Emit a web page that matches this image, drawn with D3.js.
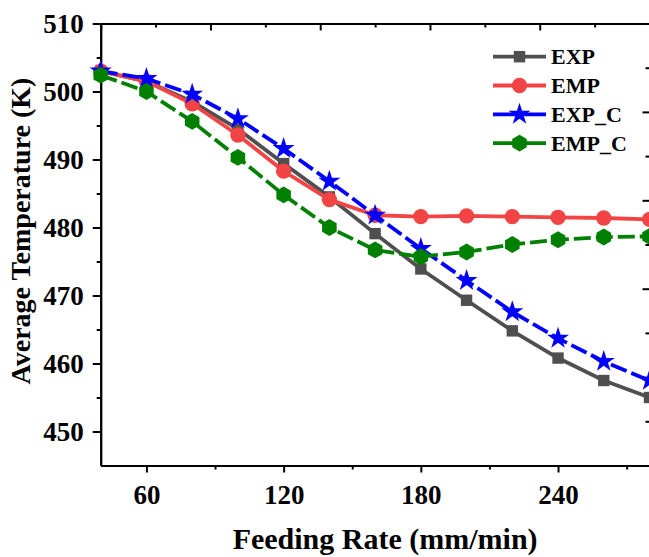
<!DOCTYPE html>
<html>
<head>
<meta charset="utf-8">
<script src="https://cdn.jsdelivr.net/npm/d3@7"></script>
<style>
  html, body { margin: 0; padding: 0; background: #fff; }
  svg { display: block; }
  text { font-family: "Liberation Serif", "Times New Roman", serif; font-weight: bold; fill: #000; }
</style>
</head>
<body>
<svg id="chart" width="649" height="557"></svg>
<script>
// Feeding rate (mm/min)
const feedRates = [40, 60, 80, 100, 120, 140, 160, 180, 200, 220, 240, 260, 280];

// Average temperature (K) for each case
const expValues  = [503.0, 501.5, 498.5, 494.5, 489.4, 484.5, 479.1, 473.9, 469.3, 464.8, 460.8, 457.5, 455.0];
const empValues  = [503.0, 501.5, 498.2, 493.6, 488.3, 484.1, 481.8, 481.6, 481.7, 481.6, 481.5, 481.4, 481.2];
const expCValues = [503.0, 501.9, 499.6, 496.0, 491.6, 486.8, 481.8, 476.9, 472.2, 467.6, 463.7, 460.3, 457.5];
const empCValues = [502.4, 500.0, 495.6, 490.3, 484.8, 480.0, 476.7, 475.7, 476.4, 477.5, 478.2, 478.6, 478.7];

const seriesNames = ["EXP", "EMP", "EXP_C", "EMP_C"];

const xMajorTicks = [60, 120, 180, 240];
const xMinorTicks = [90, 150, 210, 270];
const yMajorTicks = [450, 460, 470, 480, 490, 500, 510];
const yMinorTicks = [455, 465, 475, 485, 495, 505];

const svg = d3.select("#chart");

const plotLeft = 100.7, plotRight = 649.5, plotTop = 23.5, plotBottom = 465.5;

const x = d3.scaleLinear().domain([40, 280]).range([plotLeft, plotRight]);
const y = d3.scaleLinear().domain([445, 510]).range([plotBottom, plotTop]);

const series = [
  { name: seriesNames[0], values: expValues,  color: "#4f4f4f", dash: null,   symbol: d3.symbolSquare,  size: 130 },
  { name: seriesNames[1], values: empValues,  color: "#f24444", dash: null,   symbol: d3.symbolCircle,  size: 185 },
  { name: seriesNames[2], values: expCValues, color: "#0000ff", dash: "17,5", symbol: d3.symbolStar,    size: 150 },
  { name: seriesNames[3], values: empCValues, color: "#008000", dash: "17,5", symbol: "hexagon",        size: 8.4 }
];

function hexPath(r) {
  const pts = d3.range(6).map(i => {
    const a = Math.PI / 2 + i * Math.PI / 3;
    return [r * Math.cos(a), -r * Math.sin(a)];
  });
  return "M" + pts.map(p => p.join(",")).join("L") + "Z";
}

function markerPath(s) {
  if (s.symbol === "hexagon") return hexPath(s.size);
  return d3.symbol().type(s.symbol).size(s.size)();
}

// Axes
const axisStyle = g => {
  g.selectAll("path").attr("stroke", "#000").attr("stroke-width", 2);
  g.selectAll("line").attr("stroke", "#000").attr("stroke-width", 2);
  g.selectAll("text").style("font-size", "27px");
};

// bottom: major + minor
svg.append("g").attr("transform", `translate(0,${plotBottom})`)
  .call(d3.axisBottom(x).tickValues(xMajorTicks).tickFormat(d3.format("d")).tickSize(7).tickSizeOuter(0).tickPadding(12))
  .call(axisStyle);
svg.append("g").attr("transform", `translate(0,${plotBottom})`)
  .call(d3.axisBottom(x).tickValues(xMinorTicks).tickFormat("").tickSize(4).tickSizeOuter(0))
  .call(axisStyle);

// left: major + minor
svg.append("g").attr("transform", `translate(${plotLeft},0)`)
  .call(d3.axisLeft(y).tickValues(yMajorTicks).tickFormat(d3.format("d")).tickSize(8).tickSizeOuter(0).tickPadding(9))
  .call(axisStyle);
svg.append("g").attr("transform", `translate(${plotLeft},0)`)
  .call(d3.axisLeft(y).tickValues(yMinorTicks).tickFormat("").tickSize(4).tickSizeOuter(0))
  .call(axisStyle);

// top and right frame axes with their own inward ticks
const xTop = d3.scaleLinear().domain([40, 280]).range([plotLeft, plotRight]);
const yRight = d3.scaleLinear().domain([445, 510]).range([plotBottom, plotTop]);
const topTicks = d3.range(11).map(i => 40 + 24 * i);
const rightTicks = d3.range(11).map(i => 510 - 6.5 * i);

svg.append("g").attr("transform", `translate(0,${plotTop})`)
  .call(d3.axisTop(xTop).tickValues(topTicks.filter((d, i) => i % 2 === 0)).tickFormat("").tickSize(-7).tickSizeOuter(0))
  .call(axisStyle);
svg.append("g").attr("transform", `translate(0,${plotTop})`)
  .call(d3.axisTop(xTop).tickValues(topTicks.filter((d, i) => i % 2 === 1)).tickFormat("").tickSize(-4).tickSizeOuter(0))
  .call(axisStyle);
svg.append("g").attr("transform", `translate(${plotRight},0)`)
  .call(d3.axisRight(yRight).tickValues(rightTicks.filter((d, i) => i % 2 === 0)).tickFormat("").tickSize(-7).tickSizeOuter(0))
  .call(axisStyle);
svg.append("g").attr("transform", `translate(${plotRight},0)`)
  .call(d3.axisRight(yRight).tickValues(rightTicks.filter((d, i) => i % 2 === 1)).tickFormat("").tickSize(-4).tickSizeOuter(0))
  .call(axisStyle);

// Axis titles
svg.append("text")
  .attr("x", (plotLeft + plotRight) / 2 + 10)
  .attr("y", 549)
  .attr("text-anchor", "middle")
  .style("font-size", "30px")
  .text("Feeding Rate (mm/min)");

svg.append("text")
  .attr("transform", "translate(30,231) rotate(-90)")
  .attr("text-anchor", "middle")
  .style("font-size", "28px")
  .text("Average Temperature (K)");

// Series lines and markers
const line = d3.line().x((d, i) => x(feedRates[i])).y(d => y(d));

series.forEach(s => {
  const g = svg.append("g");
  g.append("path")
    .datum(s.values)
    .attr("d", line)
    .attr("fill", "none")
    .attr("stroke", s.color)
    .attr("stroke-width", 3.8)
    .attr("stroke-linejoin", "round")
    .attr("stroke-dasharray", s.dash);
  g.selectAll("path.mark")
    .data(s.values)
    .join("path")
    .attr("class", "mark")
    .attr("d", markerPath(s))
    .attr("transform", (d, i) => `translate(${x(feedRates[i])},${y(d)})`)
    .attr("fill", s.color);
});

// Legend
const legend = svg.append("g");
const legendRowY = [56.7, 85.5, 114.3, 143.1];
series.forEach((s, i) => {
  const ly = legendRowY[i];
  legend.append("line")
    .attr("x1", 493).attr("x2", 546).attr("y1", ly).attr("y2", ly)
    .attr("stroke", s.color).attr("stroke-width", 3.8);
  legend.append("path")
    .attr("d", markerPath(s))
    .attr("transform", `translate(519.5,${ly})`)
    .attr("fill", s.color);
  legend.append("text")
    .attr("x", 551)
    .attr("y", ly)
    .attr("dy", "0.35em")
    .style("font-size", "22px")
    .text(s.name);
});
</script>
</body>
</html>
